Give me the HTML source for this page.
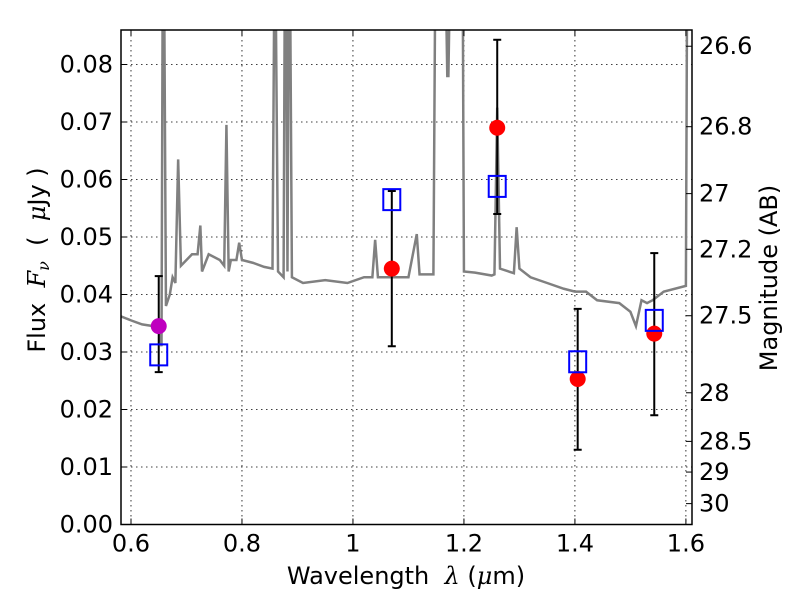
<!DOCTYPE html>
<html><head><meta charset="utf-8"><style>
body{margin:0;background:#fff;}
svg{display:block;font-family:"DejaVu Sans","Liberation Sans",sans-serif;}
</style></head><body>
<svg id="chart" width="800" height="600" viewBox="0 0 800 600"></svg>
<script>
const specWave=[0.582,0.60,0.62,0.64,0.65,0.655,0.657,0.660,0.663,0.67,0.675,0.68,0.685,0.690,0.70,0.71,0.72,0.725,0.728,0.74,0.76,0.768,0.772,0.776,0.78,0.79,0.795,0.80,0.82,0.84,0.855,0.858,0.861,0.865,0.875,0.877,0.880,0.882,0.884,0.887,0.89,0.91,0.95,0.99,1.02,1.035,1.04,1.045,1.10,1.115,1.12,1.145,1.148,1.168,1.170,1.172,1.174,1.198,1.2,1.22,1.25,1.255,1.26,1.265,1.29,1.295,1.30,1.32,1.35,1.38,1.40,1.42,1.44,1.48,1.50,1.51,1.52,1.53,1.54,1.56,1.6,1.602];
const specFlux=[0.0362,0.0355,0.0348,0.0345,0.034,0.031,0.09,0.09,0.038,0.040,0.043,0.042,0.0635,0.045,0.046,0.047,0.047,0.052,0.044,0.047,0.046,0.045,0.0695,0.044,0.046,0.046,0.049,0.046,0.0455,0.0448,0.0445,0.09,0.09,0.044,0.043,0.09,0.09,0.044,0.09,0.09,0.043,0.042,0.0425,0.042,0.043,0.043,0.0495,0.043,0.043,0.0505,0.0435,0.0435,0.09,0.09,0.078,0.078,0.09,0.09,0.044,0.0438,0.0433,0.0435,0.0725,0.0445,0.0437,0.0517,0.0445,0.043,0.042,0.041,0.0405,0.0405,0.039,0.0385,0.037,0.0345,0.039,0.0385,0.039,0.0405,0.0415,0.09];
const obsWave=[0.65,1.07,1.26,1.405,1.543];
const obsFlux=[0.0345,0.0445,0.069,0.0253,0.0332];
const errLow=[0.0265,0.031,0.054,0.013,0.019];
const errHigh=[0.0432,0.058,0.0843,0.0375,0.0472];
const modelFlux=[0.0295,0.0565,0.0588,0.0283,0.0355];
const obsColors=['#bf00bf','red','red','red','red'];
const xTicks=[0.6,0.8,1.0,1.2,1.4,1.6];
const xTickLabels=['0.6','0.8','1','1.2','1.4','1.6'];
const yTicks=[0,0.01,0.02,0.03,0.04,0.05,0.06,0.07,0.08];
const yTickLabels=['0.00','0.01','0.02','0.03','0.04','0.05','0.06','0.07','0.08'];
const magTicks=[26.6,26.8,27,27.2,27.5,28,28.5,29,30];
const magTickLabels=['26.6','26.8','27','27.2','27.5','28','28.5','29','30'];

const L=121,R=692,T=30,B=524.5,xmin=0.582,xmax=1.611,ymin=0,ymax=0.086;
const X=v=>L+(v-xmin)/(xmax-xmin)*(R-L);
const Y=v=>B-(v-ymin)/(ymax-ymin)*(B-T);
const svg=document.getElementById('chart');
const NS='http://www.w3.org/2000/svg';
function mk(tag,attrs,parent){const e=document.createElementNS(NS,tag);for(const k in attrs)e.setAttribute(k,attrs[k]);(parent||svg).appendChild(e);return e;}
const defs=mk('defs',{});const cp=mk('clipPath',{id:'clip'},defs);mk('rect',{x:L,y:T,width:R-L,height:B-T},cp);

const grid=mk('g',{});


xTicks.forEach(t=>{mk('line',{x1:X(t),x2:X(t),y1:T,y2:B,stroke:'#000','stroke-width':0.8,'stroke-dasharray':'1.5,3.5'},grid);});
yTicks.forEach(t=>{mk('line',{x1:L,x2:R,y1:Y(t),y2:Y(t),stroke:'#000','stroke-width':0.8,'stroke-dasharray':'1.5,3.5'},grid);});

const sp=mk('polyline',{points:specWave.map((w,i)=>X(w)+','+Y(specFlux[i])).join(' '),fill:'none',stroke:'#808080','stroke-width':2.5,'clip-path':'url(#clip)'});



obsWave.forEach((w,i)=>{
 const g=mk('g',{});
 
 
 mk('line',{x1:X(w),x2:X(w),y1:Y(errLow[i]),y2:Y(errHigh[i]),stroke:'#000','stroke-width':2},g);
 mk('line',{x1:X(w)-4,x2:X(w)+4,y1:Y(errLow[i]),y2:Y(errLow[i]),stroke:'#000','stroke-width':2},g);
 mk('line',{x1:X(w)-4,x2:X(w)+4,y1:Y(errHigh[i]),y2:Y(errHigh[i]),stroke:'#000','stroke-width':2},g);
});
obsWave.forEach((w,i)=>{
 const c=mk('ellipse',{cx:X(w),cy:Y(obsFlux[i]),rx:8,ry:8,fill:obsColors[i]});
 
 
});
obsWave.forEach((w,i)=>{
 const s=mk('rect',{x:X(w)-8.5,y:Y(modelFlux[i])-10.5,width:17,height:21,fill:'none',stroke:'#0000ff','stroke-width':2});
 
 
});

const fr=mk('rect',{x:L,y:T,width:R-L,height:B-T,fill:'none',stroke:'#000','stroke-width':1.5});



const FS=24;
xTicks.forEach((t,i)=>{
 mk('line',{x1:X(t),x2:X(t),y1:B,y2:B-6,stroke:'#000','stroke-width':1});
 mk('line',{x1:X(t),x2:X(t),y1:T,y2:T+6,stroke:'#000','stroke-width':1});
 const tx=mk('text',{x:X(t),y:B+27,'font-size':FS,'text-anchor':'middle'});tx.textContent=xTickLabels[i];
 
 
});
yTicks.forEach((t,i)=>{
 mk('line',{x1:L,x2:L+6,y1:Y(t),y2:Y(t),stroke:'#000','stroke-width':1});
 const tx=mk('text',{x:L-8,y:Y(t)+8,'font-size':FS,'text-anchor':'end'});tx.textContent=yTickLabels[i];
 
 
});
magTicks.forEach((m,i)=>{
 const f=Math.pow(10,(23.9-m)/2.5);
 mk('line',{x1:R,x2:R-6,y1:Y(f),y2:Y(f),stroke:'#000','stroke-width':1});
 const tx=mk('text',{x:R+7,y:Y(f)+8,'font-size':FS,'text-anchor':'start'});tx.textContent=magTickLabels[i];
 
 
});
</script>
<svg style="position:absolute;left:0;top:0" width="800" height="600">
<text x="406" y="584" font-size="24" text-anchor="middle" font-family="DejaVu Sans, Liberation Sans, sans-serif">Wavelength&#160;&#160;<tspan font-style="italic" font-family="DejaVu Serif, serif">λ</tspan>&#160;(<tspan font-style="italic" font-family="DejaVu Serif, serif">μ</tspan>m)</text>
<text transform="translate(45,260) rotate(-90)" font-size="24" text-anchor="middle" font-family="DejaVu Sans, Liberation Sans, sans-serif">Flux&#160;&#160;<tspan font-style="italic" font-family="DejaVu Serif, serif">F</tspan><tspan font-style="italic" font-size="16" dy="4" font-family="DejaVu Serif, serif">ν</tspan><tspan dy="-4">&#160;&#160;(&#160;&#160;</tspan><tspan font-style="italic" font-family="DejaVu Serif, serif">μ</tspan>Jy&#160;)</text>
<text transform="translate(777,278) rotate(-90)" font-size="24" text-anchor="middle" font-family="DejaVu Sans, Liberation Sans, sans-serif">Magnitude (AB)</text>
</svg>
</body></html>
